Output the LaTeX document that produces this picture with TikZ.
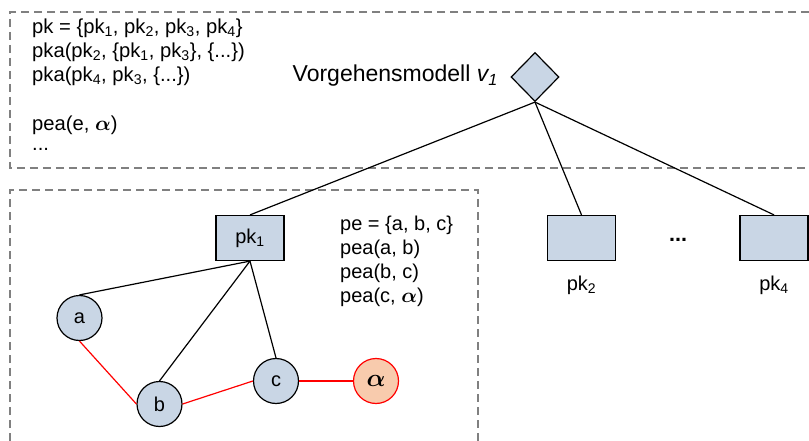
\documentclass[tikz,border=0pt]{standalone}
\usepackage{bm}
\usepackage{fontspec}
\setmainfont{Liberation Sans}
\usetikzlibrary{shapes.geometric}
\definecolor{boxfill}{HTML}{C9D6E5}
\definecolor{alphafill}{HTML}{F8CBAD}
\definecolor{dashgray}{HTML}{808080}
\definecolor{redline}{HTML}{FF0000}
\tikzset{
  frame/.style={draw=dashgray, line width=1.2pt, dash pattern=on 8pt off 5pt},
  pkbox/.style={draw=black, fill=boxfill, line width=1.2pt, minimum width=68pt, minimum height=45pt, inner sep=0pt},
  elem/.style={circle, draw=black, fill=boxfill, line width=1.2pt, minimum size=45pt, inner sep=0pt, font=\fontsize{20}{24}\selectfont},
  alphanode/.style={circle, draw=redline, fill=alphafill, line width=1.2pt, minimum size=45pt, inner sep=0pt},
  vm/.style={diamond, draw=black, fill=boxfill, line width=1.2pt, minimum width=48pt, minimum height=49pt, inner sep=0pt},
  conn/.style={draw=black, line width=1.2pt},
  redconn/.style={draw=redline, line width=1.2pt},
  txt/.style={font=\fontsize{20.2}{24}\selectfont, inner sep=0pt, anchor=west},
  smtxt/.style={font=\fontsize{20}{24}\selectfont, inner sep=0pt, anchor=west},
}
\newcommand{\sbs}[1]{\textsubscript{#1}}
\begin{document}
\begin{tikzpicture}[x=1pt,y=-1pt]
\useasboundingbox (0,0) rectangle (809,441);
% frames
\draw[frame] (809,12) -- (10,12) -- (10,168) -- (809,168);
\draw[frame] (10,441) -- (10,190) -- (478,190) -- (478,441);
% top text
\node[txt] (t1) at (32,28) {pk = \{pk\sbs{1}, pk\sbs{2}, pk\sbs{3}, pk\sbs{4}\}};
\node[txt] (t2) at (32,52) {pka(pk\sbs{2}, \{pk\sbs{1}, pk\sbs{3}\}, \{...\})};
\node[txt] (t3) at (32,76) {pka(pk\sbs{4}, pk\sbs{3}, \{...\})};
\node[txt] (t4) at (32,125) {pea(e, $\bm{\alpha}$)};
\node[txt] (t5) at (32,149) {...};
% model
\node[vm] (v) at (535,77) {};
\node[font=\fontsize{23}{26}\selectfont, inner sep=0pt, anchor=east] (vl) at (498,76) {Vorgehensmodell \textit{v\textsubscript{1}}};
% pk boxes
\node[pkbox, font=\fontsize{20}{24}\selectfont] (pk1) at (250,238) {pk\sbs{1}};
\node[pkbox] (pk2) at (581.5,238) {};
\node[pkbox] (pk4) at (774,238) {};
\node[smtxt, anchor=center] (pk2l) at (581.5,285) {pk\sbs{2}};
\node[smtxt, anchor=center] (pk4l) at (774,285) {pk\sbs{4}};
\node[font=\fontsize{21.5}{24}\selectfont\bfseries, inner sep=0pt] (dots) at (678,240) {...};
% pe text
\node[smtxt] (p1) at (340,225) {pe = \{a, b, c\}};
\node[smtxt] (p2) at (340,249) {pea(a, b)};
\node[smtxt] (p3) at (340,273) {pea(b, c)};
\node[smtxt] (p4) at (340,297) {pea(c, $\bm{\alpha}$)};
% elements
\node[elem] (a) at (79.5,318) {a};
\node[elem] (b) at (159.5,404) {b};
\node[elem] (c) at (276,381) {c};
\node[alphanode] (alp) at (376,381) {\fontsize{27}{28}\selectfont $\bm{\alpha}$};
% connectors
\draw[conn] (v.south) -- (pk1.north);
\draw[conn] (v.south) -- (pk2.north);
\draw[conn] (v.south) -- (pk4.north);
\draw[conn] (pk1.south) -- (a.north);
\draw[conn] (pk1.south) -- (b.north);
\draw[conn] (pk1.south) -- (c.north);
\draw[redconn] (a.south) -- (b.west);
\draw[redconn] (b.east) -- (c.west);
\draw[redconn] (c.east) -- (alp.west);
\end{tikzpicture}
\end{document}
